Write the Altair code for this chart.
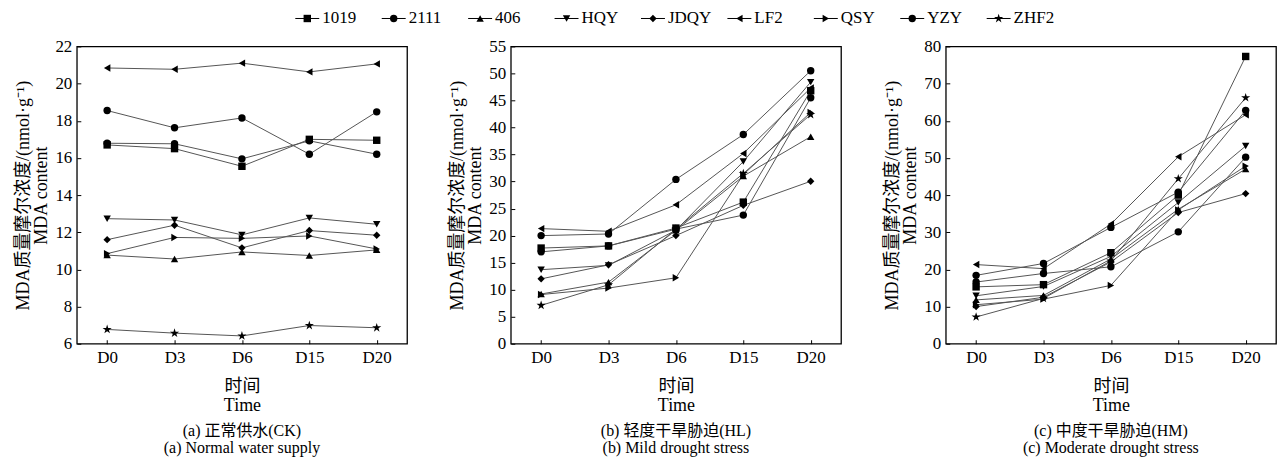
import altair as alt
import pandas as pd

series = ["1019", "2111", "406", "HQY", "JDQY", "LF2", "QSY", "YZY", "ZHF2"]
times = ["D0", "D3", "D6", "D15", "D20"]

# (a) CK
ck_1019 = [16.7, 16.5, 15.55, 17.0, 16.95]
ck_2111 = [18.55, 17.62, 18.15, 16.2, 18.48]
ck_406 = [10.77, 10.56, 10.94, 10.75, 11.05]
ck_HQY = [12.73, 12.66, 11.86, 12.77, 12.43]
ck_JDQY = [11.6, 12.38, 11.16, 12.09, 11.84]
ck_LF2 = [20.84, 20.77, 21.1, 20.63, 21.06]
ck_QSY = [10.85, 11.72, 11.67, 11.8, 11.1]
ck_YZY = [16.79, 16.76, 15.95, 16.92, 16.2]
ck_ZHF2 = [6.77, 6.57, 6.42, 6.98, 6.86]

# (b) HL
hl_1019 = [17.7, 18.1, 21.4, 26.2, 46.8]
hl_2111 = [20.0, 20.3, 30.4, 38.7, 50.5]
hl_406 = [9.2, 11.4, 21.0, 31.0, 38.3]
hl_HQY = [13.7, 14.5, 21.0, 33.7, 48.4]
hl_JDQY = [12.0, 14.6, 20.0, 25.6, 30.05]
hl_LF2 = [21.3, 20.8, 25.7, 35.2, 47.3]
hl_QSY = [9.1, 10.3, 12.2, 31.3, 42.8]
hl_YZY = [17.0, 18.1, 21.2, 23.8, 45.5]
hl_ZHF2 = [7.1, 10.9, 21.2, 31.5, 42.4]

# (c) HM
hm_1019 = [15.3, 15.9, 24.5, 40.0, 77.3]
hm_2111 = [18.4, 21.6, 31.3, 40.8, 62.8]
hm_406 = [11.8, 13.0, 22.8, 36.2, 47.0]
hm_HQY = [12.9, 15.4, 23.5, 38.0, 53.2]
hm_JDQY = [10.0, 12.5, 22.0, 35.3, 40.4]
hm_LF2 = [21.3, 20.2, 32.2, 50.3, 61.6]
hm_QSY = [10.5, 12.0, 15.7, 36.0, 47.8]
hm_YZY = [16.6, 18.9, 20.7, 30.1, 50.2]
hm_ZHF2 = [7.2, 12.2, 22.3, 44.4, 66.2]

ck = [ck_1019, ck_2111, ck_406, ck_HQY, ck_JDQY, ck_LF2, ck_QSY, ck_YZY, ck_ZHF2]
hl = [hl_1019, hl_2111, hl_406, hl_HQY, hl_JDQY, hl_LF2, hl_QSY, hl_YZY, hl_ZHF2]
hm = [hm_1019, hm_2111, hm_406, hm_HQY, hm_JDQY, hm_LF2, hm_QSY, hm_YZY, hm_ZHF2]

titles = [
    ["(a) 正常供水(CK)", "(a) Normal water supply"],
    ["(b) 轻度干旱胁迫(HL)", "(b) Mild drought stress"],
    ["(c) 中度干旱胁迫(HM)", "(c) Moderate drought stress"],
]
y_domains = [(6, 22, 2), (0, 55, 5), (0, 80, 10)]
widths = [331, 331, 331]

STAR = ("M0,-1.3L0.29,-0.4L1.24,-0.4L0.47,0.15L0.76,1.05L0,0.5"
        "L-0.76,1.05L-0.47,0.15L-1.24,-0.4L-0.29,-0.4Z")
shapes = ["square", "circle", "triangle-up", "triangle-down", "diamond",
          "triangle-left", "triangle-right", "circle", STAR]
shape_scale = alt.Scale(domain=series, range=shapes)

FONT = "Liberation Serif, Noto Sans CJK SC"


def long_df(table):
    rows = []
    for s, vals in zip(series, table):
        for t, v in zip(times, vals):
            rows.append({"series": s, "time": t, "value": v})
    return pd.DataFrame(rows)


def panel(table, ydom, title, width):
    lo, hi, step = ydom
    df = long_df(table)
    base = alt.Chart(df).encode(
        x=alt.X("time:N", sort=times,
                scale=alt.Scale(type="point", padding=0.45),
                axis=alt.Axis(title=["时间", "Time"], labelAngle=0, domain=False,
                              offset=-4, tickSize=4, tickColor="black",
                              labelPadding=6, titlePadding=12,
                              titleLineHeight=19)),
        y=alt.Y("value:Q",
                scale=alt.Scale(domain=[lo, hi], nice=False, zero=False),
                axis=alt.Axis(values=list(range(lo, hi + 1, step)),
                              title=["MDA质量摩尔浓度/(nmol·g⁻¹)", "MDA content"],
                              domain=False, offset=-4, tickSize=4,
                              tickColor="black", labelPadding=5,
                              titlePadding=4, titleLineHeight=18, grid=False)),
    )
    lines = base.mark_line(color="#555555", strokeWidth=1).encode(
        detail="series:N")
    pts = base.mark_point(filled=True, color="black", size=55, opacity=1).encode(
        shape=alt.Shape("series:N", scale=shape_scale, legend=None))
    return alt.layer(lines, pts).properties(
        width=width, height=298,
        title=alt.TitleParams(text=title, orient="bottom", anchor="middle",
                              fontSize=16, font=FONT, fontWeight="normal",
                              lineHeight=18, offset=8, color="black"),
    )


panels = [panel(t, d, ti, w) for t, d, ti, w in zip([ck, hl, hm], y_domains, titles, widths)]

leg_df = pd.DataFrame({"series": series})
leg_x = alt.X("series:N", sort=series,
              scale=alt.Scale(type="point", range=[231, 924], padding=0), axis=None)
leg_base = alt.Chart(leg_df).encode(x=leg_x, y=alt.value(11))
leg_line = leg_base.mark_rule(color="black", strokeWidth=1, xOffset=-12,
                              x2Offset=12).encode(x2=alt.X2("series"))
leg_pts = leg_base.mark_point(filled=True, color="black", size=55, opacity=1).encode(
    shape=alt.Shape("series:N", scale=shape_scale, legend=None))
leg_txt = leg_base.mark_text(align="left", baseline="middle", dx=15,
                             fontSize=17, font=FONT, color="black").encode(
    text="series:N")
legend = alt.layer(leg_line, leg_pts, leg_txt).properties(
    width=980, height=20, view=alt.ViewConfig(stroke="transparent"))

row = alt.hconcat(alt.hconcat(panels[0], panels[1], spacing=40), panels[2], spacing=41)
chart = alt.vconcat(legend, row, spacing=8).properties(
    padding={"left": 14, "top": 6, "right": 0, "bottom": 0}
).configure_view(stroke="black", strokeWidth=1.3).configure_axis(
    labelFont=FONT, titleFont=FONT, labelFontSize=17, titleFontSize=18,
    labelColor="black", titleColor="black", titleFontWeight="normal",
    grid=False
)

chart.save("out.html", embed_options={"renderer": "svg", "actions": False})
